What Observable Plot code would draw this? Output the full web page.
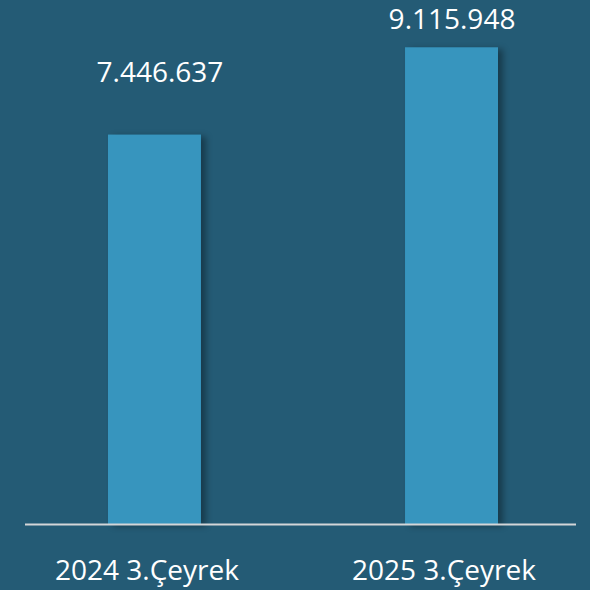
<!DOCTYPE html>
<html>
<head>
<meta charset="utf-8">
<script src="https://cdn.jsdelivr.net/npm/d3@7"></script>
<script src="https://cdn.jsdelivr.net/npm/@observablehq/plot@0.6"></script>
<style>
  html, body { margin: 0; padding: 0; background: #245b75; }
  #chart svg { display: block; }
</style>
</head>
<body>
<div id="chart"></div>
<script>
const categories = ["2024 3.Çeyrek", "2025 3.Çeyrek"];
const values = [7446637, 9115948];

const data = categories.map((c, i) => ({category: c, value: values[i]}));
const fmt = d3.formatLocale({decimal: ",", thousands: ".", grouping: [3], currency: ["", ""]}).format(",d");

const font = "'Open Sans', sans-serif";

const chart = Plot.plot({
  width: 590,
  height: 590,
  marginTop: 0,
  marginBottom: 66,
  marginLeft: 25,
  marginRight: 14,
  style: {background: "#245b75", color: "#ffffff", fontFamily: font},
  x: {domain: categories, range: [33.75, 572.25], paddingInner: 0.687, paddingOuter: 0.25, round: false, label: null},
  y: {domain: [0, 10020000], axis: null},
  marks: [
    Plot.barY(data, {x: "category", y: "value", fill: "#3795be", className: "bars"}),
    Plot.ruleY([0], {stroke: "#d4d6d8", strokeWidth: 2}),
    Plot.text(data.filter((d, i) => i === 0), {x: "category", y: "value", text: d => fmt(d.value), lineAnchor: "bottom", dy: -53, dx: 5, fill: "#ffffff", fontSize: 28, fontFamily: font}),
    Plot.text(data.filter((d, i) => i === 1), {x: "category", y: "value", text: d => fmt(d.value), lineAnchor: "bottom", dy: -19, fill: "#ffffff", fontSize: 28, fontFamily: font}),
    Plot.axisX({tickSize: 0, tickPadding: 36, dx: -8, fontSize: 28, fill: "#ffffff", label: null, fontFamily: font})
  ]
});

document.getElementById("chart").appendChild(chart);
const bars = chart.querySelector("g.bars");
if (bars) bars.setAttribute("style", "filter: drop-shadow(5px 2px 3px rgba(0,0,0,0.35))");
</script>
</body>
</html>
